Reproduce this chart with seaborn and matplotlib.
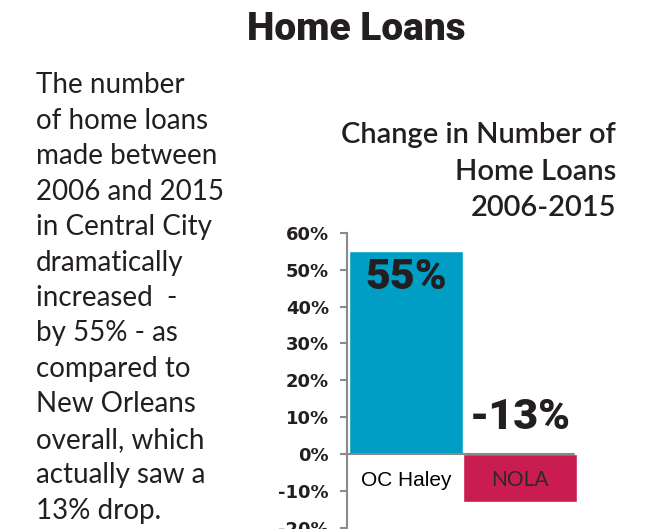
import matplotlib
matplotlib.use("Agg")
import matplotlib.pyplot as plt
import seaborn as sns
import pandas as pd
from matplotlib.ticker import FuncFormatter

categories = ["OC Haley", "NOLA"]
values = [55, -13]
value_labels = ["55%", "-13%"]
bar_colors = ["#009ec4", "#c91c51"]
yticks = [-20, -10, 0, 10, 20, 30, 40, 50, 60]

main_title = "Home Loans"
chart_title_lines = ["Change in Number of", "Home Loans", "2006-2015"]
paragraph = ["The number", "of home loans", "made between", "2006 and 2015",
             "in Central City", "dramatically", "increased  -", "by 55% - as",
             "compared to", "New Orleans", "overall, which", "actually saw a",
             "13% drop."]

sns.set_theme(style="white")
plt.rcParams['font.family'] = ['Lato', 'DejaVu Sans']

W, H = 651, 529
fig = plt.figure(figsize=(W / 100, H / 100), dpi=100)
ax = fig.add_axes([347 / W, (H - 527.6) / H, 230 / W, (527.6 - 233) / H])

df = pd.DataFrame({"cat": categories, "val": values})
sns.barplot(data=df, x="cat", y="val", hue="cat", palette=bar_colors,
            width=1.0, legend=False, ax=ax, saturation=1)

ax.set_xlim(-0.52, 1.5)
ax.set_ylim(-20, 60)
ax.set_yticks(yticks)
ax.yaxis.set_major_formatter(FuncFormatter(lambda v, p: f"{int(v)}%"))
ax.set_xticks([])
ax.set_xlabel("")
ax.set_ylabel("")
for s in ["top", "right", "bottom"]:
    ax.spines[s].set_visible(False)
ax.spines["left"].set_color("#8a8a8a")
ax.spines["left"].set_linewidth(1.5)
ax.tick_params(axis="y", left=True, length=5, width=1.5, color="#8a8a8a",
               pad=8, labelsize=13, labelcolor="#231f20")
for lab in ax.get_yticklabels():
    lab.set_family(["DejaVu Sans"])
    lab.set_fontweight("bold")
ax.axhline(0, color="#8a8a8a", lw=1.5, xmax=0.985, zorder=3)

heavy = ["Roboto", "DejaVu Sans"]
# value labels
ax.annotate(value_labels[0], (0, values[0]), xytext=(0, -19), textcoords="offset points",
            ha="center", va="center", fontsize=31, fontweight="black", color="#231f20",
            family=heavy)
ax.annotate(value_labels[1], (1, 0), xytext=(0, 26), textcoords="offset points",
            ha="center", va="center", fontsize=31, fontweight="black", color="#231f20",
            family=heavy)
# category labels
ax.annotate(categories[0], (0, 0), xytext=(0, -19), textcoords="offset points",
            ha="center", va="center", fontsize=15, color="black",
            family=["Liberation Sans", "DejaVu Sans"])
ax.annotate(categories[1], (1, 0), xytext=(0, -19), textcoords="offset points",
            ha="center", va="center", fontsize=15, color="#2a2a2a")

fig.text(356 / W, 1 - 30 / H, main_title, ha="center", va="center",
         fontsize=28, fontweight="black", color="#231f20", family=heavy)
for i, (line, base) in enumerate(zip(chart_title_lines, [143, 180, 216])):
    fig.text(616 / W, 1 - base / H, line, ha="right", va="baseline",
             fontsize=21, fontweight="semibold", color="#231f20")
for i, line in enumerate(paragraph):
    fig.text(36 / W, 1 - (85 + i * 35.5) / H, line, ha="left", va="center",
             fontsize=20, fontweight="normal", color="#231f20")

fig.savefig("out.png", dpi=100)
